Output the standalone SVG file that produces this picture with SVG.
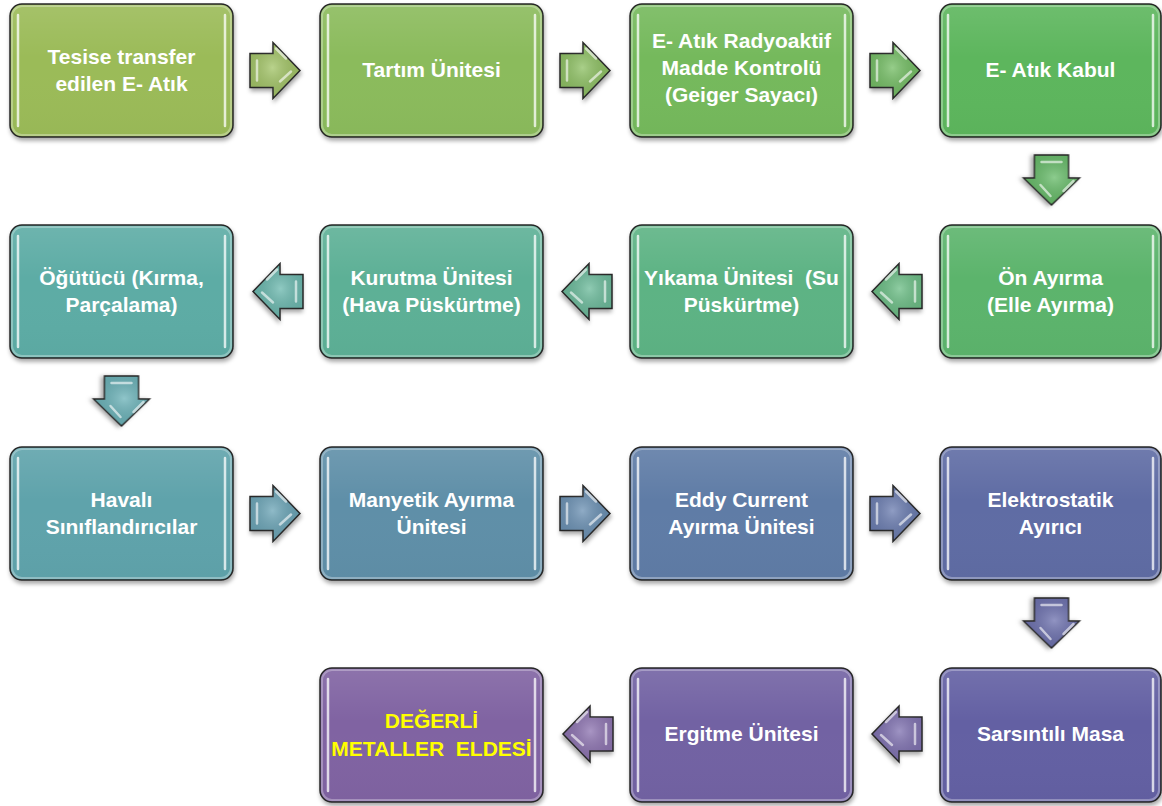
<svg xmlns="http://www.w3.org/2000/svg" xmlns:xlink="http://www.w3.org/1999/xlink" width="1162" height="806" viewBox="0 0 1162 806">
<style>
.box{stroke:#262626;stroke-width:1.5;filter:url(#sh)}
.gl{fill:url(#bgl);stroke:#fff;stroke-opacity:.3;stroke-width:2}
.hl{stroke:#fff;stroke-opacity:.75;stroke-width:2.5;stroke-linecap:round}
.lbl{font-family:"Liberation Sans",Arial,sans-serif;font-weight:bold;font-size:21px;fill:#fff;text-anchor:middle;white-space:pre}
.yel{fill:#ffff00}
</style>
<defs>
<filter id="sh" x="-10%" y="-10%" width="125%" height="130%">
<feDropShadow dx="1" dy="3" stdDeviation="2" flood-color="#000" flood-opacity=".35"/>
</filter>
<linearGradient id="bgl" x1="0" y1="0" x2="0" y2="1">
<stop offset="0" stop-color="#fff" stop-opacity=".1"/>
<stop offset=".4" stop-color="#fff" stop-opacity="0"/>
<stop offset="1" stop-color="#000" stop-opacity=".02"/>
</linearGradient>
<radialGradient id="agl" cx=".45" cy=".45" r=".6">
<stop offset="0" stop-color="#fff" stop-opacity=".25"/>
<stop offset="1" stop-color="#000" stop-opacity=".08"/>
</radialGradient>
<g id="arw">
<path d="M0,-17H23V-28L50,0L23,28V17H0Z" stroke="#262626" stroke-width="1.5" filter="url(#sh)"/>
<path d="M0,-17H23V-28L50,0L23,28V17H0Z" fill="url(#agl)"/>
<path d="M7,-10V10M30,11L41,1M26,-22L36,-12" fill="none" stroke="#fff" stroke-opacity=".6" stroke-width="2.5" stroke-linecap="round"/>
</g>
</defs>

<g id="connectors">
<use xlink:href="#arw" href="#arw" transform="translate(250,70.5)" fill="#a2c466"/>
<use xlink:href="#arw" href="#arw" transform="translate(560,70.5)" fill="#8dc062"/>
<use xlink:href="#arw" href="#arw" transform="translate(870,70.5)" fill="#73bd64"/>
<use xlink:href="#arw" href="#arw" transform="translate(1051.5,155) rotate(90)" fill="#66bb68"/>
<use xlink:href="#arw" href="#arw" transform="translate(922,291.5) scale(-1,1)" fill="#6abd84"/>
<use xlink:href="#arw" href="#arw" transform="translate(612,291.5) scale(-1,1)" fill="#6aba9a"/>
<use xlink:href="#arw" href="#arw" transform="translate(303,291.5) scale(-1,1)" fill="#6ab8ae"/>
<use xlink:href="#arw" href="#arw" transform="translate(121.5,376) rotate(90)" fill="#6ab2b8"/>
<use xlink:href="#arw" href="#arw" transform="translate(250,513.5)" fill="#6aa4b6"/>
<use xlink:href="#arw" href="#arw" transform="translate(560,513.5)" fill="#6a90b3"/>
<use xlink:href="#arw" href="#arw" transform="translate(870,513.5)" fill="#6a7cb0"/>
<use xlink:href="#arw" href="#arw" transform="translate(1051.5,598) rotate(90)" fill="#6c6fae"/>
<use xlink:href="#arw" href="#arw" transform="translate(922,734) scale(-1,1)" fill="#7e6fb0"/>
<use xlink:href="#arw" href="#arw" transform="translate(613,734) scale(-1,1)" fill="#8c72b0"/>
</g>

<g id="n1">
<rect class="box" x="10" y="4" width="223" height="133" rx="12" fill="#9bbb59"/>
<rect class="gl" x="12" y="6" width="219" height="129" rx="10"/>
<line class="hl" x1="18" y1="15" x2="18" y2="126"/><line class="hl" x1="225" y1="15" x2="225" y2="126"/>
<text class="lbl" x="121.5" y="63.5">Tesise transfer<tspan x="121.5" dy="27.5">edilen E- Atık</tspan></text>
</g>
<g id="n2">
<rect class="box" x="320" y="4" width="223" height="133" rx="12" fill="#8bbb5b"/>
<rect class="gl" x="322" y="6" width="219" height="129" rx="10"/>
<line class="hl" x1="328" y1="15" x2="328" y2="126"/><line class="hl" x1="535" y1="15" x2="535" y2="126"/>
<text class="lbl" x="431.5" y="76.5">Tartım Ünitesi</text>
</g>
<g id="n3">
<rect class="box" x="630" y="4" width="223" height="133" rx="12" fill="#74b95c"/>
<rect class="gl" x="632" y="6" width="219" height="129" rx="10"/>
<line class="hl" x1="638" y1="15" x2="638" y2="126"/><line class="hl" x1="845" y1="15" x2="845" y2="126"/>
<text class="lbl" x="741.5" y="48">E- Atık Radyoaktif<tspan x="741.5" dy="27">Madde Kontrolü</tspan><tspan x="741.5" dy="27">(Geiger Sayacı)</tspan></text>
</g>
<g id="n4">
<rect class="box" x="940" y="4" width="221" height="133" rx="12" fill="#5db65d"/>
<rect class="gl" x="942" y="6" width="217" height="129" rx="10"/>
<line class="hl" x1="948" y1="15" x2="948" y2="126"/><line class="hl" x1="1153" y1="15" x2="1153" y2="126"/>
<text class="lbl" x="1050.5" y="76.5">E- Atık Kabul</text>
</g>

<g id="n5">
<rect class="box" x="940" y="225" width="221" height="133" rx="12" fill="#5cb46c"/>
<rect class="gl" x="942" y="227" width="217" height="129" rx="10"/>
<line class="hl" x1="948" y1="236" x2="948" y2="347"/><line class="hl" x1="1153" y1="236" x2="1153" y2="347"/>
<text class="lbl" x="1050.5" y="284.5">Ön Ayırma<tspan x="1050.5" dy="27.5">(Elle Ayırma)</tspan></text>
</g>
<g id="n6">
<rect class="box" x="630" y="225" width="223" height="133" rx="12" fill="#5db384"/>
<rect class="gl" x="632" y="227" width="219" height="129" rx="10"/>
<line class="hl" x1="638" y1="236" x2="638" y2="347"/><line class="hl" x1="845" y1="236" x2="845" y2="347"/>
<text class="lbl" x="741.5" y="284.5">Yıkama Ünitesi  (Su<tspan x="741.5" dy="27.5">Püskürtme)</tspan></text>
</g>
<g id="n7">
<rect class="box" x="320" y="225" width="223" height="133" rx="12" fill="#5db096"/>
<rect class="gl" x="322" y="227" width="219" height="129" rx="10"/>
<line class="hl" x1="328" y1="236" x2="328" y2="347"/><line class="hl" x1="535" y1="236" x2="535" y2="347"/>
<text class="lbl" x="431.5" y="284.5">Kurutma Ünitesi<tspan x="431.5" dy="27.5">(Hava Püskürtme)</tspan></text>
</g>
<g id="n8">
<rect class="box" x="10" y="225" width="223" height="133" rx="12" fill="#5daca5"/>
<rect class="gl" x="12" y="227" width="219" height="129" rx="10"/>
<line class="hl" x1="18" y1="236" x2="18" y2="347"/><line class="hl" x1="225" y1="236" x2="225" y2="347"/>
<text class="lbl" x="121.5" y="284.5">Öğütücü (Kırma,<tspan x="121.5" dy="27.5">Parçalama)</tspan></text>
</g>

<g id="n9">
<rect class="box" x="10" y="447" width="223" height="133" rx="12" fill="#5fa3ab"/>
<rect class="gl" x="12" y="449" width="219" height="129" rx="10"/>
<line class="hl" x1="18" y1="458" x2="18" y2="569"/><line class="hl" x1="225" y1="458" x2="225" y2="569"/>
<text class="lbl" x="121.5" y="506.5">Havalı<tspan x="121.5" dy="27.5">Sınıflandırıcılar</tspan></text>
</g>
<g id="n10">
<rect class="box" x="320" y="447" width="223" height="133" rx="12" fill="#5f8fa8"/>
<rect class="gl" x="322" y="449" width="219" height="129" rx="10"/>
<line class="hl" x1="328" y1="458" x2="328" y2="569"/><line class="hl" x1="535" y1="458" x2="535" y2="569"/>
<text class="lbl" x="431.5" y="506.5">Manyetik Ayırma<tspan x="431.5" dy="27.5">Ünitesi</tspan></text>
</g>
<g id="n11">
<rect class="box" x="630" y="447" width="223" height="133" rx="12" fill="#5f7ca6"/>
<rect class="gl" x="632" y="449" width="219" height="129" rx="10"/>
<line class="hl" x1="638" y1="458" x2="638" y2="569"/><line class="hl" x1="845" y1="458" x2="845" y2="569"/>
<text class="lbl" x="741.5" y="506.5">Eddy Current<tspan x="741.5" dy="27.5">Ayırma Ünitesi</tspan></text>
</g>
<g id="n12">
<rect class="box" x="940" y="447" width="221" height="133" rx="12" fill="#5f6ca4"/>
<rect class="gl" x="942" y="449" width="217" height="129" rx="10"/>
<line class="hl" x1="948" y1="458" x2="948" y2="569"/><line class="hl" x1="1153" y1="458" x2="1153" y2="569"/>
<text class="lbl" x="1050.5" y="506.5">Elektrostatik<tspan x="1050.5" dy="27.5">Ayırıcı</tspan></text>
</g>

<g id="n13">
<rect class="box" x="940" y="668" width="221" height="134" rx="12" fill="#6461a3"/>
<rect class="gl" x="942" y="670" width="217" height="130" rx="10"/>
<line class="hl" x1="948" y1="679" x2="948" y2="791"/><line class="hl" x1="1153" y1="679" x2="1153" y2="791"/>
<text class="lbl" x="1050.5" y="741">Sarsıntılı Masa</text>
</g>
<g id="n14">
<rect class="box" x="630" y="668" width="223" height="134" rx="12" fill="#7262a3"/>
<rect class="gl" x="632" y="670" width="219" height="130" rx="10"/>
<line class="hl" x1="638" y1="679" x2="638" y2="791"/><line class="hl" x1="845" y1="679" x2="845" y2="791"/>
<text class="lbl" x="741.5" y="741">Ergitme Ünitesi</text>
</g>
<g id="n15">
<rect class="box" x="320" y="668" width="223" height="134" rx="12" fill="#8064a2"/>
<rect class="gl" x="322" y="670" width="219" height="130" rx="10"/>
<line class="hl" x1="328" y1="679" x2="328" y2="791"/><line class="hl" x1="535" y1="679" x2="535" y2="791"/>
<text class="lbl yel" x="431.5" y="728">DEĞERLİ<tspan x="431.5" dy="27.5">METALLER  ELDESİ</tspan></text>
</g>
</svg>
